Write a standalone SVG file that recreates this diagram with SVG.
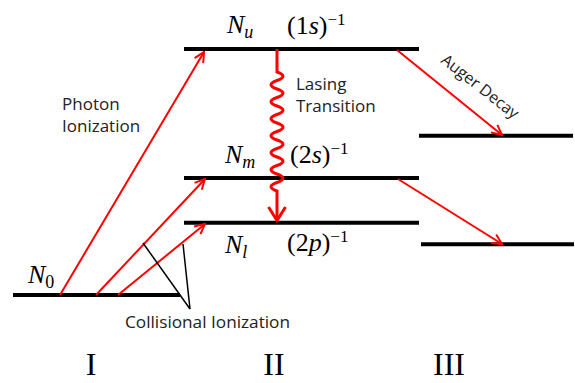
<svg xmlns="http://www.w3.org/2000/svg" width="575" height="383" viewBox="0 0 575 383">
<defs>
<marker id="ah" viewBox="0 0 12 12" refX="11" refY="6" markerWidth="12" markerHeight="12" markerUnits="userSpaceOnUse" orient="auto">
<path d="M1,1 L11,6 L1,11" fill="none" stroke="#ff0000" stroke-width="2"/>
</marker>
<style>
.lvl{stroke:#000;stroke-width:4;fill:none}
.red{stroke:#ff0000;stroke-width:2;fill:none;marker-end:url(#ah)}
.lbl{font-family:"Open Sans","Liberation Sans",sans-serif;font-size:17px;fill:#222}
.m{font-family:"Liberation Serif",serif;font-size:26px;fill:#000}
.mi{font-style:italic}
.sub{font-size:18px}
.sup{font-size:17px}
.rom{font-family:"Liberation Serif",serif;font-size:32px;fill:#000;text-anchor:middle}
</style>
</defs>
<rect width="575" height="383" fill="#fff"/>
<g id="level-N0"><line class="lvl" x1="13" y1="295" x2="180" y2="295"/>
<text class="m" x="28" y="283"><tspan class="mi">N</tspan><tspan class="sub" dy="5">0</tspan></text></g>
<g id="level-Nu"><line class="lvl" x1="184" y1="49" x2="419" y2="49"/>
<text class="m" x="227" y="33"><tspan class="mi">N</tspan><tspan class="sub mi" dy="5">u</tspan></text>
<text class="m" x="287" y="34">(1<tspan class="mi">s</tspan>)<tspan class="sup" dy="-9">−1</tspan></text></g>
<g id="level-Nm"><line class="lvl" x1="184" y1="178" x2="419" y2="178"/>
<text class="m" x="225" y="163"><tspan class="mi">N</tspan><tspan class="sub mi" dy="5">m</tspan></text>
<text class="m" x="290" y="163">(2<tspan class="mi">s</tspan>)<tspan class="sup" dy="-9">−1</tspan></text></g>
<g id="level-Nl"><line class="lvl" x1="184" y1="222.7" x2="419" y2="222.7"/>
<text class="m" x="225" y="253"><tspan class="mi">N</tspan><tspan class="sub mi" dy="5">l</tspan></text>
<text class="m" x="287" y="251">(2<tspan class="mi">p</tspan>)<tspan class="sup" dy="-9">−1</tspan></text></g>
<g id="level-III-upper"><line class="lvl" x1="419" y1="135.7" x2="573" y2="135.7"/></g>
<g id="level-III-lower"><line class="lvl" x1="421" y1="244.3" x2="574" y2="244.3"/></g>
<g id="connectors">
<line class="red" x1="60" y1="295" x2="204" y2="52"/>
<line class="red" x1="96" y1="295" x2="205" y2="179"/>
<line class="red" x1="118" y1="295" x2="205" y2="224"/>
<line class="red" x1="397" y1="50" x2="502" y2="135"/>
<line class="red" x1="398" y1="179" x2="502" y2="244"/>
<path d="M277,49 V72 Q289,76.25 277,80.5 T277,89 T277,97.5 T277,106 T277,114.5 T277,123 T277,131.5 T277,140 T277,148.5 T277,157 T277,165.5 T277,174 T277,182.5 T277,191 V220" fill="none" stroke="#ff0000" stroke-width="3"/>
<path d="M268.5,207 L277,220.5 L285.5,207" fill="none" stroke="#ff0000" stroke-width="3"/>
<line x1="143" y1="243" x2="190" y2="309" stroke="#000" stroke-width="1.5"/>
<line x1="183" y1="244" x2="190" y2="309" stroke="#000" stroke-width="1.5"/>
</g>
<g id="labels">
<text class="lbl" x="62" y="110">Photon</text>
<text class="lbl" x="62" y="132">Ionization</text>
<text class="lbl" x="296" y="90">Lasing</text>
<text class="lbl" x="296" y="112">Transition</text>
<text class="lbl" style="font-size:16px" transform="translate(440,62) rotate(38)">Auger Decay</text>
<text class="lbl" x="125" y="328" textLength="165" lengthAdjust="spacingAndGlyphs">Collisional Ionization</text>
<text class="rom" x="91" y="375">I</text>
<text class="rom" x="274" y="375">II</text>
<text class="rom" x="449" y="375">III</text>
</g>
</svg>
